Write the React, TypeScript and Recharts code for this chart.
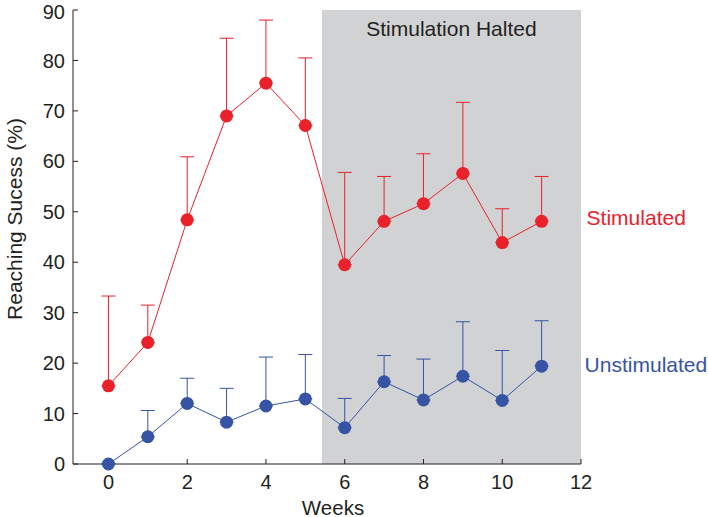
import React from 'react';
import { LineChart, Line, XAxis, YAxis, ErrorBar, ReferenceArea, Label } from 'recharts';

const weeks = [0, 1, 2, 3, 4, 5, 6, 7, 8, 9, 10, 11];
const stimulated = [15.5, 24.1, 48.4, 69.0, 75.5, 67.1, 39.5, 48.1, 51.6, 57.6, 43.9, 48.1];
const stimulatedUpper = [33.3, 31.5, 60.9, 84.4, 88.0, 80.5, 57.8, 57.0, 61.5, 71.7, 50.6, 57.0];
const unstimulated = [0, 5.4, 12.0, 8.3, 11.5, 12.9, 7.2, 16.3, 12.7, 17.4, 12.6, 19.4];
const unstimulatedUpper = [0, 10.6, 17.0, 15.0, 21.2, 21.7, 13.0, 21.5, 20.8, 28.2, 22.5, 28.4];
const xTicks = [0, 2, 4, 6, 8, 10, 12];
const yTicks = [0, 10, 20, 30, 40, 50, 60, 70, 80, 90];
const haltStart = 5.42;
const haltEnd = 12;

const RED = '#e8212a';
const BLUE = '#3653a4';
const GRAY = '#d1d2d4';
const INK = '#231f20';
const FONT = '"Liberation Sans", Arial, sans-serif';

const data = weeks.map((w, i) => ({
  week: w,
  stim: stimulated[i],
  stimErr: [0, stimulatedUpper[i] - stimulated[i]],
  unstim: unstimulated[i],
  unstimErr: [0, unstimulatedUpper[i] - unstimulated[i]],
}));

const endLabel = (text: string, color: string, dx: number, dy: number) => (props: any) => {
  if (props.index !== weeks.length - 1) return null;
  return (
    <text
      x={props.x + dx}
      y={props.y + dy}
      fill={color}
      fontSize={21}
      fontFamily={FONT}
      dominantBaseline="central"
      textAnchor="start"
    >
      {text}
    </text>
  );
};

export default function App() {
  return (
    <div style={{ position: 'absolute', left: 0, top: 0, background: '#fff' }}>
      <LineChart
        width={708}
        height={517}
        data={data}
        margin={{ top: 10, right: 127, bottom: 0, left: 0 }}
        style={{ fontFamily: FONT }}
      >
        <ReferenceArea
          x1={haltStart}
          x2={haltEnd}
          y1={0}
          y2={90}
          fill={GRAY}
          fillOpacity={1}
          stroke="none"
          ifOverflow="visible"
        >
          <Label
            value="Stimulation Halted"
            position="insideTop"
            offset={11}
            style={{ fontSize: 21, fill: INK, fontFamily: FONT }}
          />
        </ReferenceArea>
        <XAxis
          type="number"
          dataKey="week"
          domain={[-0.9, 12]}
          ticks={xTicks}
          allowDataOverflow
          height={53}
          tickSize={-5}
          tickMargin={16}
          axisLine={{ stroke: INK, strokeWidth: 1 }}
          tickLine={{ stroke: INK, strokeWidth: 1 }}
          tick={{ fontSize: 20, fill: INK, fontFamily: FONT }}
          label={{
            content: () => (
              <text x={333} y={507} textAnchor="middle" dominantBaseline="central" fontSize={20.5} fill={INK} fontFamily={FONT}>
                Weeks
              </text>
            ),
          }}
        />
        <YAxis
          type="number"
          domain={[0, 90]}
          ticks={yTicks}
          width={73}
          tickSize={-5}
          tickMargin={13}
          axisLine={{ stroke: INK, strokeWidth: 1 }}
          tickLine={{ stroke: INK, strokeWidth: 1 }}
          tick={{ fontSize: 20, fill: INK, fontFamily: FONT }}
          label={{
            content: () => (
              <text
                x={14}
                y={219}
                transform="rotate(-90 14 219)"
                textAnchor="middle"
                dominantBaseline="central"
                fontSize={21}
                fill={INK}
                fontFamily={FONT}
              >
                Reaching Sucess (%)
              </text>
            ),
          }}
        />
        <Line
          dataKey="stim"
          stroke={RED}
          strokeWidth={1}
          dot={{ r: 6.5, fill: RED, stroke: RED, strokeWidth: 0 }}
          isAnimationActive={false}
          label={endLabel('Stimulated', RED, 45, -4)}
        >
          <ErrorBar dataKey="stimErr" direction="y" width={7} stroke={RED} strokeWidth={1} />
        </Line>
        <Line
          dataKey="unstim"
          stroke={BLUE}
          strokeWidth={1}
          dot={{ r: 6.5, fill: BLUE, stroke: BLUE, strokeWidth: 0 }}
          isAnimationActive={false}
          label={endLabel('Unstimulated', BLUE, 43, -2)}
        >
          <ErrorBar dataKey="unstimErr" direction="y" width={7} stroke={BLUE} strokeWidth={1} />
        </Line>
      </LineChart>
    </div>
  );
}
